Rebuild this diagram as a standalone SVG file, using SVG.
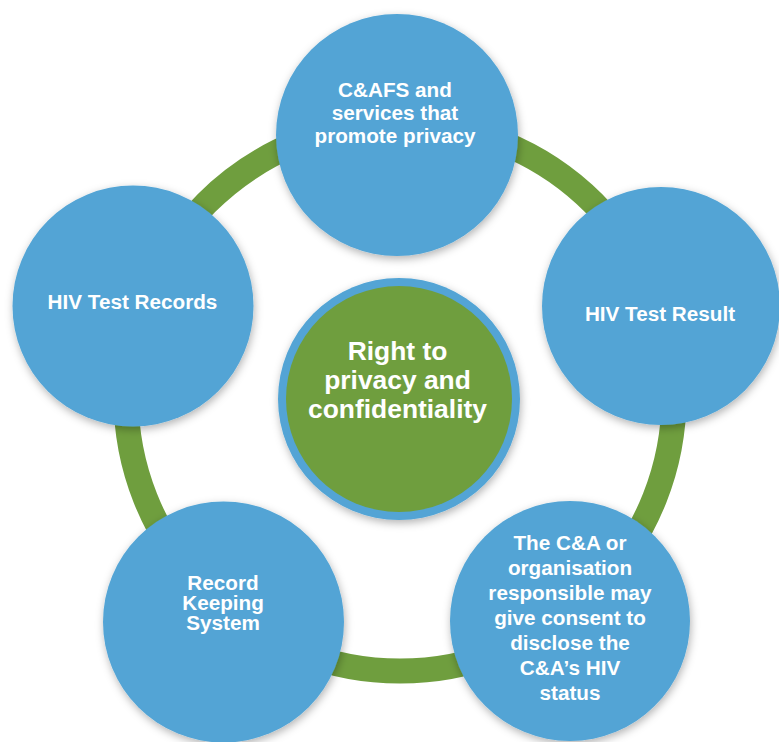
<svg xmlns="http://www.w3.org/2000/svg" width="779" height="742" viewBox="0 0 779 742">
<defs>
<filter id="sh" x="-20%" y="-20%" width="140%" height="140%">
<feGaussianBlur in="SourceAlpha" stdDeviation="4"/>
<feOffset dx="1" dy="3" result="b"/>
<feFlood flood-color="#000" flood-opacity="0.3"/>
<feComposite in2="b" operator="in"/>
<feMerge><feMergeNode/><feMergeNode in="SourceGraphic"/></feMerge>
</filter>
<style>
.node{fill:#52A4D5;filter:url(#sh)}
.t{font-family:"Liberation Sans",Arial,sans-serif;font-weight:bold;fill:#fff;text-anchor:middle;font-size:20.7px}
.c{font-size:26.4px}
</style>
</defs>
<rect width="779" height="742" fill="#fff"/>
<g id="connectors">
<circle cx="400" cy="397" r="274" fill="none" stroke="#6F9E3E" stroke-width="25"/>
</g>
<g id="center">
<circle cx="399" cy="399" r="121" fill="#52A4D5" filter="url(#sh)"/>
<circle cx="399" cy="399" r="113" fill="#6F9E3E"/>
<text class="t c" x="397.5"><tspan x="397.5" y="360">Right to</tspan><tspan x="397.5" y="389">privacy and</tspan><tspan x="397.5" y="418">confidentiality</tspan></text>
</g>
<g id="n-top">
<circle class="node" cx="397" cy="135" r="121"/>
<text class="t"><tspan x="395" y="97">C&amp;AFS and</tspan><tspan x="395" y="120">services that</tspan><tspan x="395" y="143">promote privacy</tspan></text>
</g>
<g id="n-right">
<circle class="node" cx="661" cy="306" r="119"/>
<text class="t" x="660" y="321">HIV Test Result</text>
</g>
<g id="n-left">
<circle class="node" cx="133" cy="306" r="120.5"/>
<text class="t" x="132.5" y="309">HIV Test Records</text>
</g>
<g id="n-bottom-left">
<circle class="node" cx="223.5" cy="622" r="120.5"/>
<text class="t"><tspan x="223" y="590">Record</tspan><tspan x="223" y="610">Keeping</tspan><tspan x="223" y="630">System</tspan></text>
</g>
<g id="n-bottom-right">
<circle class="node" cx="570" cy="621" r="120"/>
<text class="t"><tspan x="570" y="550">The C&amp;A or</tspan><tspan x="570" y="575">organisation</tspan><tspan x="570" y="600">responsible may</tspan><tspan x="570" y="625">give consent to</tspan><tspan x="570" y="650">disclose the</tspan><tspan x="570" y="675">C&amp;A’s HIV</tspan><tspan x="570" y="700">status</tspan></text>
</g>
</svg>
